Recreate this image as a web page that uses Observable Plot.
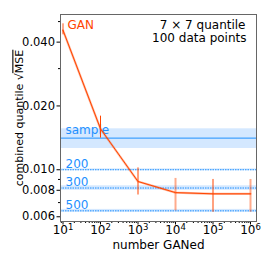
<!DOCTYPE html>
<html>
<head>
<meta charset="utf-8">
<script src="https://cdn.jsdelivr.net/npm/d3@7"></script>
<script src="https://cdn.jsdelivr.net/npm/@observablehq/plot@0.6"></script>
<style>
  html, body { margin: 0; padding: 0; background: #fff; }
  #chart svg { display: block; }
  #chart svg text { font-family: "DejaVu Sans", sans-serif; }
</style>
</head>
<body>
<div id="chart"></div>
<script>
// GAN series: number GANed vs combined quantile sqrt(MSE)
const ganN = [10, 100, 1000, 10000, 100000, 1000000];
const ganMSE = [0.0455, 0.0156, 0.0088, 0.0078, 0.0077, 0.0077];
const ganLo = [0.0433, 0.0141, 0.0076, 0.0064, 0.0063, 0.0063];
const ganHi = [0.0488, 0.0179, 0.0102, 0.0091, 0.0090, 0.0090];
const ganStrong = [false, true, true, false, true, false];

// Reference (sample) levels
const refLabel = ["sample", "200", "300", "500"];
const refMSE = [0.0141, 0.0100, 0.0082, 0.0064];
const refLo = [0.0126, 0.0099, 0.0080, 0.0063];
const refHi = [0.0156, 0.0101, 0.0084, 0.0065];
const refSolid = [true, false, false, false];

const yTicks = [0.006, 0.008, 0.010, 0.020, 0.040];
const yMinor = [0.007, 0.009, 0.03, 0.05];
const xTicks = [10, 100, 1000, 10000, 100000, 1000000];
const xTickBase = "10";
const xTickExp = ["1", "2", "3", "4", "5", "6"];
const xMinor = [];
for (const dec of [1, 10, 100, 1000, 10000, 100000, 1000000]) for (const m of [2,3,4,5,6,7,8,9]) xMinor.push(dec * m);

const annotations = ["7 × 7 quantile", "100 data points"];
const yLabelMain = "combined quantile √";
const yLabelOver = "MSE";

const gan = ganN.map((n, i) => ({n, v: ganMSE[i], lo: ganLo[i], hi: ganHi[i], strong: ganStrong[i]}));
const ref = refLabel.map((l, i) => ({l, v: refMSE[i], lo: refLo[i], hi: refHi[i], solid: refSolid[i]}));

const blue = "#1e90ff";
const orange = "#ff4500";
const font = "DejaVu Sans";
const fs = 12;

const xMinorIn = xMinor.filter(d => d > 8.6 && d < 1.44e6);
const xFmt = d => {
  const i = xTicks.findIndex(t => Math.abs(Math.log10(t) - Math.log10(d)) < 1e-6);
  return i < 0 ? "" : xTickBase + "^" + xTickExp[i];
};

const chart = Plot.plot({
  width: 270,
  height: 270,
  marginLeft: 60,
  marginRight: 14,
  marginTop: 14,
  marginBottom: 49,
  style: {fontFamily: font, fontSize: "12px", color: "#000", background: "#fff"},
  x: {type: "log", domain: [8.57, 1.445e6]},
  y: {type: "log", domain: [0.0057, 0.054]},
  marks: [
    Plot.rectY(ref, {x1: 8.57, x2: 1.445e6, y1: "lo", y2: "hi", fill: "#cfe6ff", fillOpacity: 0.9}),
    Plot.ruleY(ref.filter(d => d.solid), {y: "v", stroke: blue, strokeWidth: 1}),
    Plot.ruleY(ref.filter(d => !d.solid), {y: "v", stroke: blue, strokeWidth: 1, strokeDasharray: "1.5,1"}),
    Plot.text(ref.filter(d => d.solid), {y: "v", text: "l", frameAnchor: "left", textAnchor: "start", lineAnchor: "bottom", dx: 5, dy: -4, fill: blue, fontSize: fs, fontFamily: font}),
    Plot.text(ref.filter(d => !d.solid), {y: "v", text: "l", frameAnchor: "left", textAnchor: "start", lineAnchor: "bottom", dx: 5, dy: -2, fill: blue, fontSize: fs, fontFamily: font}),
    Plot.ruleX(gan.filter(d => !d.strong), {x: "n", y1: "lo", y2: "hi", stroke: orange, strokeOpacity: 0.45, strokeWidth: 2}),
    Plot.ruleX(gan.filter(d => d.strong), {x: "n", y1: "lo", y2: "hi", stroke: orange, strokeWidth: 1}),
    Plot.line(gan, {x: "n", y: "v", stroke: orange, strokeOpacity: 0.4, strokeWidth: 2.2}),
    Plot.line(gan, {x: "n", y: "v", stroke: orange, strokeWidth: 1}),
    Plot.axisY({ticks: yTicks, tickFormat: d => d.toFixed(3), tickSize: 3.5, tickPadding: 2, fontSize: 11.5, fontFamily: font,
      label: yLabelMain + yLabelOver, labelAnchor: "center", labelArrow: "none", labelOffset: 45}),
    Plot.axisY({ticks: yMinor, tickSize: 2, tickFormat: () => "", label: null}),
    Plot.axisX({ticks: xTicks, tickFormat: xFmt, tickSize: 3.5, tickPadding: 0.5, fontSize: 12, fontFamily: font,
      label: "number GANed", labelAnchor: "center", labelArrow: "none", labelOffset: 27}),
    Plot.axisX({ticks: xMinorIn, tickSize: 2, tickFormat: () => "", label: null}),
    Plot.frame({stroke: "#666"}),
    Plot.text(["GAN"], {frameAnchor: "top-left", textAnchor: "start", lineAnchor: "top", dx: 7, dy: 6, fill: orange, fontSize: 12, fontFamily: font}),
    Plot.text([annotations[0]], {frameAnchor: "top-right", textAnchor: "end", lineAnchor: "top", dx: -11, dy: 6, fill: "#000", fontSize: fs, fontFamily: font}),
    Plot.text([annotations[1]], {frameAnchor: "top-right", textAnchor: "end", lineAnchor: "top", dx: -10, dy: 19, fill: "#000", fontSize: fs, fontFamily: font})
  ]
});
document.getElementById("chart").appendChild(chart);

const NS = "http://www.w3.org/2000/svg";
for (const t of chart.querySelectorAll("text")) {
  const s = t.textContent;
  // overline on MSE in the y-axis label
  if (s === yLabelMain + yLabelOver) {
    t.textContent = "";
    t.setAttribute("font-size", "11");
    t.style.fontSize = "11px";
    const a = document.createElementNS(NS, "tspan");
    a.textContent = yLabelMain;
    const b = document.createElementNS(NS, "tspan");
    b.textContent = yLabelOver;
    b.style.textDecoration = "overline";
    t.appendChild(a); t.appendChild(b);
  } else if (/^10\^\d$/.test(s)) {
    // superscript exponent on x tick labels
    const [base, exp] = s.split("^");
    t.textContent = "";
    const a = document.createElementNS(NS, "tspan");
    a.textContent = base;
    const b = document.createElementNS(NS, "tspan");
    b.textContent = exp;
    b.setAttribute("dy", "-4.5");
    b.setAttribute("font-size", "8.5");
    t.appendChild(a); t.appendChild(b);
  }
}
</script>
</body>
</html>
